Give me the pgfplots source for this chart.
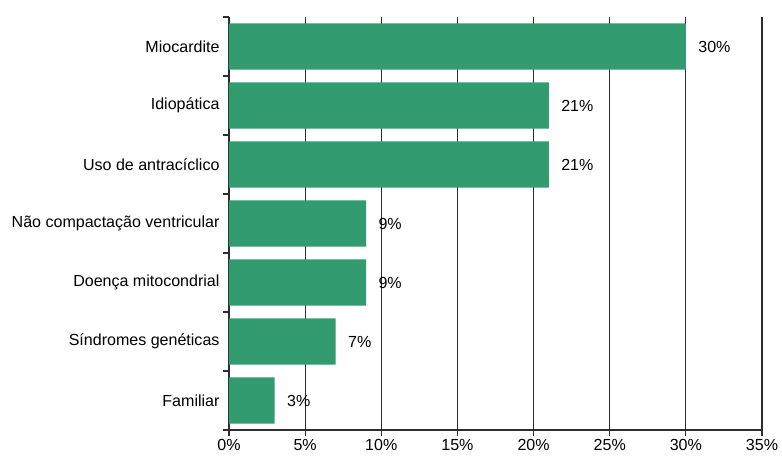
\documentclass[border=0pt]{standalone}
\usepackage{pgfplots}
\pgfplotsset{compat=1.18}
\usepackage{fontspec}
\setmainfont{Liberation Sans}
\definecolor{barg}{RGB}{51,155,112}
\definecolor{gridc}{RGB}{45,45,45}
\begin{document}
\begin{tikzpicture}[font=\fontsize{16.1}{19}\selectfont]
\begin{axis}[
  scale only axis, width=533bp, height=413bp,
  xmin=0, xmax=35, ymin=-0.5, ymax=6.5,
  xbar, bar width=0.78, bar shift=0pt,
  axis x line*=bottom, axis y line*=left,
  axis line style={gridc, line width=1.2bp},
  xtick={0,5,...,35},
  xticklabels={0\%,5\%,10\%,15\%,20\%,25\%,30\%,35\%},
  ytick={-0.5,0.5,1.5,2.5,3.5,4.5,5.5,6.5},
  yticklabels={},
  extra y ticks={0,1,2,3,4,5,6},
  extra y tick labels={Familiar,Síndromes genéticas,Doença mitocondrial,Não compactação ventricular,Uso de antracíclico,Idiopática,Miocardite},
  extra y tick style={major tick length=0pt, yticklabel style={xshift=-6bp}},
  xmajorgrids, major grid style={gridc, line width=1.2bp},
  tick align=outside, major tick length=6bp,
  tick style={gridc, line width=1.2bp},
  /pgf/number format/assume math mode=true,
  nodes near coords={\pgfmathprintnumber{\pgfplotspointmeta}\%},
  every node near coord/.append style={anchor=west, xshift=9bp, text=black},
  clip=false,
]
\addplot[fill=barg, draw=none] coordinates {
  (30,6) (21,5) (21,4) (9,3) (9,2) (7,1) (3,0)
};
\end{axis}
\path ([xshift=-229bp,yshift=-26bp]current axis.south west) rectangle ([xshift=20bp,yshift=17bp]current axis.north east);
\end{tikzpicture}
\end{document}
